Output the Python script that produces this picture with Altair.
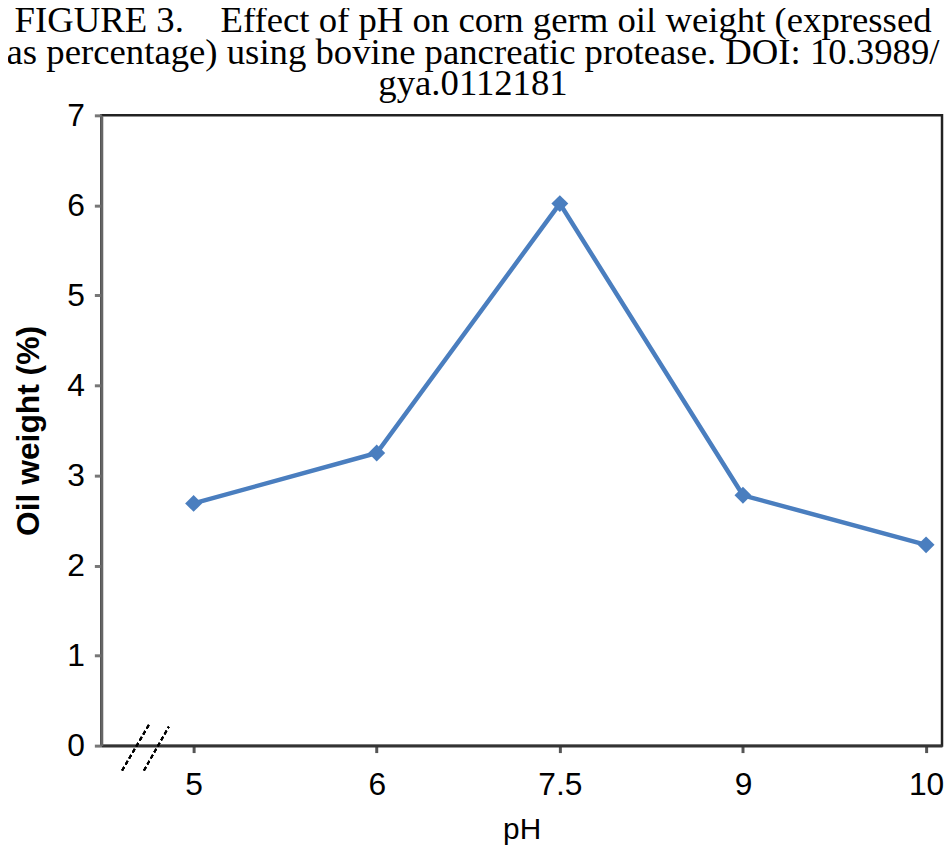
import altair as alt
import pandas as pd

ph_labels = ["5", "6", "7.5", "9", "10"]
oil_weight = [2.69, 3.25, 6.02, 2.78, 2.23]
title_lines = [
    "FIGURE 3.\u00a0\u00a0\u00a0 Effect of pH on corn germ oil weight (expressed",
    "as percentage) using bovine pancreatic protease. DOI: 10.3989/",
    "gya.0112181",
]

df = pd.DataFrame({"idx": list(range(len(ph_labels))), "ph": ph_labels, "oil": oil_weight})

label_expr = "[" + ",".join("'%s'" % s for s in ph_labels) + "][datum.value]"

x_enc = alt.X(
    "idx:Q",
    scale=alt.Scale(domain=[-0.504, 4.087], nice=False, zero=False),
    axis=alt.Axis(
        title="pH", values=list(range(len(ph_labels))), labelExpr=label_expr,
        grid=False, labelFont="Liberation Sans", labelFontSize=32, labelColor="black",
        titleFont="Liberation Sans", titleFontSize=30, titleFontWeight="normal", titleColor="black",
        labelPadding=17, titlePadding=15, tickSize=7, tickWidth=3, tickColor="#555",
        domainColor="#333", domainWidth=3,
    ),
)
y_enc = alt.Y(
    "oil:Q",
    scale=alt.Scale(domain=[0, 7], nice=False),
    axis=alt.Axis(
        title="Oil weight (%)", values=[0, 1, 2, 3, 4, 5, 6, 7], format="d",
        grid=False, labelFont="Liberation Sans", labelFontSize=32, labelColor="black",
        titleFont="Liberation Sans", titleFontSize=32, titleFontWeight="bold", titleColor="black",
        labelPadding=10, titlePadding=21, tickSize=7, tickWidth=3, tickColor="#777",
        domainColor="#666", domainWidth=3,
    ),
)

line = alt.Chart(df).mark_line(color="#4a7ebf", strokeWidth=4.5).encode(x=x_enc, y=y_enc)
pts = alt.Chart(df).mark_point(shape="diamond", filled=True, size=290, color="#4a7ebf", opacity=1).encode(
    x="idx:Q", y="oil:Q"
)

brk1 = alt.Chart(df).mark_rule(color="black", strokeWidth=1.8, strokeDash=[4, 3], clip=False).encode(
    x=alt.value(21), x2=alt.value(48), y=alt.value(660), y2=alt.value(614)
)
brk2 = alt.Chart(df).mark_rule(color="black", strokeWidth=1.8, strokeDash=[4, 3], clip=False).encode(
    x=alt.value(43), x2=alt.value(68), y=alt.value(660), y2=alt.value(616)
)

chart = (
    alt.layer(line, pts, brk1, brk2)
    .properties(
        width=847,
        height=635,
        background="white",
        autosize=alt.AutoSizeParams(type="none"),
        padding={"left": 94, "top": 105, "right": 2, "bottom": 100},
        title=alt.TitleParams(
            text=title_lines, font="Liberation Serif", fontSize=37, fontWeight="normal",
            lineHeight=32, anchor="middle", dx=-49, offset=-4, color="black",
        ),
    )
    .configure_view(stroke="#222", strokeWidth=2.5)
)

chart.save("out.html", embed_options={"renderer": "svg", "actions": False})
